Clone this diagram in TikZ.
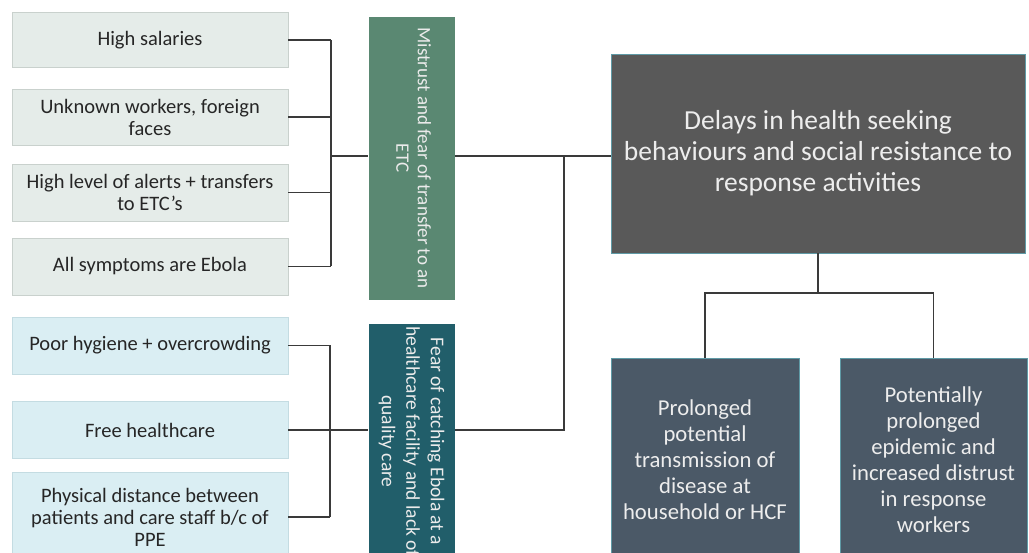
\documentclass[tikz,border=0pt]{standalone}
\usepackage{fontspec}
\usepackage{graphicx}
\usepackage{tikz}
\setmainfont{Carlito}

\definecolor{etcfill}{HTML}{E5ECE9}
\definecolor{etcedge}{HTML}{C9D1CD}
\definecolor{hcffill}{HTML}{DAEEF3}
\definecolor{hcfedge}{HTML}{C4DCE2}
\definecolor{mistrustfill}{HTML}{5A8872}
\definecolor{fearfill}{HTML}{215E6A}
\definecolor{delayfill}{HTML}{595959}
\definecolor{outcomefill}{HTML}{4B5967}
\definecolor{boxedge}{HTML}{5F9AA6}
\definecolor{inktext}{HTML}{262626}
\definecolor{linkline}{HTML}{3A3A3A}

\begin{document}
\begin{tikzpicture}[x=1pt,y=-1pt]
        \tikzstyle{every node} = [rectangle, align=center, inner sep=0pt]
        \tikzstyle{etccause} = [draw=etcedge, fill=etcfill, text=inktext, minimum width=276pt, font=\fontsize{20.5}{22}\selectfont]
        \tikzstyle{hcfcause} = [etccause, draw=hcfedge, fill=hcffill]
        \tikzstyle{fearbox} = [draw=white, line width=0.6pt, minimum width=87pt, text=white!92!black]
        \tikzstyle{outcome} = [draw=boxedge, line width=0.8pt, text=white!93!black]
        \tikzstyle{link} = [draw=linkline, line width=1.2pt]
        \useasboundingbox (0,0) rectangle (1029,553);
        \clip (0,0) rectangle (1029,553);
        % causes of mistrust
        \node[etccause, minimum height=55pt] (c1) at (150,40) {High salaries};
        \node[etccause, minimum height=56pt] (c2) at (150,117) {Unknown workers, foreign\\faces};
        \node[etccause, minimum height=57pt] (c3) at (150,192.5) {High level of alerts + transfers\\to ETC’s};
        \node[etccause, minimum height=57pt] (c4) at (150,266.5) {All symptoms are Ebola};
        % causes of fear of the health facility
        \node[hcfcause, minimum height=57pt] (h1) at (150,345.5) {Poor hygiene + overcrowding};
        \node[hcfcause, minimum height=57pt] (h2) at (150,430) {Free healthcare};
        \node[hcfcause, minimum height=90pt] (h3) at (150,517) {Physical distance between\\patients and care staff b/c of\\PPE};
        % the two fears
        \node[fearbox, fill=mistrustfill, minimum height=284pt] (mistrust) at (411.5,158)
            {\rotatebox{-90}{\makebox[200pt]{\fontsize{19}{22.5}\selectfont\begin{tabular}{@{}c@{}}Mistrust and fear of transfer to an\\[-1pt]ETC\end{tabular}}}};
        \node[fearbox, fill=fearfill, minimum height=237pt] (fear) at (411.5,441.5)
            {\rotatebox{-90}{\makebox[200pt]{\fontsize{19.5}{25.5}\selectfont\begin{tabular}{@{}c@{}}Fear of catching Ebola at a\\[-1pt]healthcare facility and lack of\\[-1pt]quality care\end{tabular}}}};
        % consequences
        \node[outcome, fill=delayfill, minimum width=414pt, minimum height=199pt, font=\fontsize{27.5}{31}\selectfont] (delay) at (818,153.5)
            {Delays in health seeking\\behaviours and social resistance to\\response activities};
        \node[outcome, fill=outcomefill, minimum width=188pt, minimum height=204pt, font=\fontsize{22.7}{26}\selectfont] (p1) at (705,460)
            {Prolonged\\potential\\transmission of\\disease at\\household or HCF};
        \node[outcome, fill=outcomefill, minimum width=187pt, minimum height=204pt, font=\fontsize{22.7}{26}\selectfont] (p2) at (933.5,460)
            {Potentially\\prolonged\\epidemic and\\increased distrust\\in response\\workers};
        % brackets
        \coordinate (jm) at (331,156);
        \coordinate (jf) at (330,430);
        \coordinate (jd) at (564,156);
        \coordinate (jo) at (818,293);
        \foreach \from in {c1, c2, c3, c4}
            \draw[link] (\from.east) -- (\from.east -| jm);
        \draw[link] (jm |- c1.east) -- (jm |- c4.east);
        \draw[link] (jm) -- (jm -| mistrust.west);
        \foreach \from in {h1, h3}
            \draw[link] (\from.east) -- (\from.east -| jf);
        \draw[link] (jf |- h1.east) -- (jf |- h3.east);
        \draw[link] (h2.east) -- (h2.east -| fear.west);
        \draw[link] (jm -| mistrust.east) -- (jm -| delay.west);
        \draw[link] (h2.east -| fear.east) -- (h2.east -| jd) -- (jd);
        \draw[link] (delay.south) -- (jo);
        \draw[link] (p1.north) |- (jo) -| (p2.north);
\end{tikzpicture}
\end{document}
